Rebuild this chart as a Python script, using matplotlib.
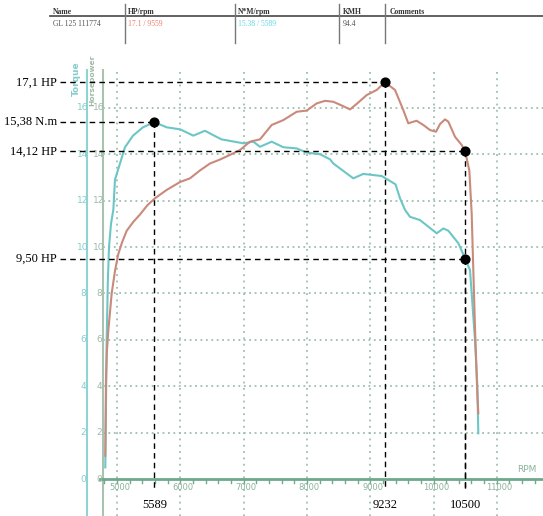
import matplotlib
matplotlib.use("Agg")
import matplotlib.pyplot as plt
import numpy as np

# ---------------- data ----------------
torque_rpm = [4815, 4825, 4837, 4855, 4874, 4905, 4942, 4968, 5047, 5126, 5253, 5411, 5589,
              5785, 6000, 6205, 6390, 6500, 6650, 6995, 7153, 7259, 7444, 7627, 7839, 7997,
              8207, 8365, 8417, 8733, 8891, 9182, 9286, 9400, 9471, 9550, 9629, 9787, 10051,
              10156, 10235, 10393, 10500, 10577, 10603, 10655, 10692, 10708]
torque_val = [0.5, 3.0, 6.0, 8.5, 10.0, 11.0, 11.6, 12.9, 13.6, 14.3, 14.8, 15.16, 15.38,
              15.16, 15.07, 14.8, 15.01, 14.85, 14.64, 14.47, 14.54, 14.32, 14.54, 14.3, 14.25, 14.07,
              14.0, 13.78, 13.6, 12.96, 13.15, 13.06, 12.89, 12.7, 12.1, 11.6, 11.3, 11.16, 10.59,
              10.8, 10.7, 10.16, 9.5, 9.0, 8.0, 6.0, 4.05, 1.97]

hp_rpm = [4815, 4822, 4826, 4840, 4863, 4916, 4970, 5021, 5080, 5153, 5263, 5363, 5480, 5600,
          5785, 5995, 6153, 6311, 6469, 6627, 6785, 6943, 7101, 7259, 7444, 7627, 7839, 7997,
          8155, 8286, 8417, 8550, 8681, 8800, 8945, 9103, 9232, 9392, 9523, 9602, 9680, 9734,
          9839, 9945, 10040, 10103, 10182, 10235, 10340, 10445, 10500, 10566, 10603, 10629,
          10655, 10692, 10708]
hp_val = [1.0, 3.0, 4.27, 5.5, 6.4, 8.0, 9.0, 9.7, 10.2, 10.7, 11.1, 11.4, 11.8, 12.1,
          12.46, 12.8, 12.96, 13.3, 13.6, 13.77, 13.97, 14.18, 14.54, 14.64, 15.26, 15.47, 15.83, 15.88,
          16.19, 16.3, 16.26, 16.1, 15.93, 16.2, 16.55, 16.77, 17.1, 16.77, 15.9, 15.33, 15.4, 15.44,
          15.26, 15.04, 14.97, 15.3, 15.5, 15.4, 14.75, 14.4, 14.12, 13.3, 11.45, 9.0,
          6.56, 3.7, 2.83]

mark_rpm = [9232, 5589, 10500, 10500]
mark_val = [17.1, 15.38, 14.12, 9.50]
mark_labels = ["17,1 HP", "15,38 N.m", "14,12 HP", "9,50 HP"]
rpm_labels = [5589, 9232, 10500]

x_ticks = [5000, 6000, 7000, 8000, 9000, 10000, 11000]
y_ticks = [0, 2, 4, 6, 8, 10, 12, 14, 16]

header_cols = ["Name", "HP/rpm", "N*M/rpm", "KMH", "Comments"]
header_vals = ["GL 125 111774", "17.1 / 9559", "15.38 / 5589", "94.4", ""]

# ---------------- layout ----------------
W, H = 543, 516
fig = plt.figure(figsize=(W / 100, H / 100), dpi=100)
ax = fig.add_axes([0, 0, 1, 1])

X0PX, XSCALE = 117, 0.0633      # px of 5000 rpm, px per rpm
Y0PX, YSCALE = 479, 23.2        # px of value 0, px per unit

def dx(px):
    return 5000 + (px - X0PX) / XSCALE

def dy(py):
    return (Y0PX - py) / YSCALE

ax.set_xlim(dx(0), dx(W))
ax.set_ylim(dy(H), dy(0))
ax.axis("off")

c_torque = "#6cc6c6"
c_hp = "#c98a7b"
c_grid = "#9dbfae"
c_axis = "#6fa88e"
c_hpaxis = "#a9c2b2"

# grid
for yv in y_ticks[1:]:
    ax.plot([dx(103), dx(W)], [yv, yv], color=c_grid, lw=1.3, ls=(0, (1, 2)), zorder=1)
for xv in x_ticks:
    ax.plot([xv, xv], [dy(72), dy(H)], color=c_grid, lw=1.3, ls=(0, (1, 2.5)), zorder=1)

# axes lines
ax.plot([dx(87), dx(87)], [dy(70), dy(H)], color="#8fd3d3", lw=1.5, zorder=2)
ax.plot([dx(103), dx(103)], [dy(70), dy(H)], color=c_hpaxis, lw=1.5, zorder=2)
ax.plot([dx(100), dx(W)], [0, 0], color=c_axis, lw=2.0, zorder=2)
for r in range(4800, 11700, 200):
    ax.plot([r, r], [0, dy(483)], color=c_axis, lw=1.0, zorder=2)

for xv in x_ticks:
    ax.text(xv + 40, dy(488), str(xv), ha="center", va="center", fontsize=6,
            color="#8bb39c")
for yv in y_ticks:
    ax.text(dx(83), yv, str(yv), ha="center", va="center", fontsize=6.5, color="#86cccc")
    ax.text(dx(99), yv, str(yv), ha="center", va="center", fontsize=6.5, color="#9dbaa6")

ax.text(dx(527), dy(470), "RPM", ha="center", va="center", fontsize=6.5, color="#8bb39c")
ax.text(dx(76), dy(79), "Torque", rotation=90, ha="center", va="center", fontsize=6.5,
        color="#86cccc", fontweight="bold")
ax.text(dx(92), dy(80), "Horsepower", rotation=90, ha="center", va="center", fontsize=5.4,
        color="#9dbaa6", fontweight="bold")

# curves
ax.plot(torque_rpm, torque_val, color=c_torque, lw=1.5, zorder=3)
ax.plot(hp_rpm, hp_val, color=c_hp, lw=1.5, zorder=3)

# annotations
for r, v, lab in zip(mark_rpm, mark_val, mark_labels):
    ax.plot([dx(60), r], [v, v], color="black", lw=1.0, ls=(0, (4, 3)), zorder=4)
    ax.text(dx(57), v, lab, ha="right", va="center", fontsize=9,
            family="Liberation Serif", color="black")
for r, v in zip(mark_rpm, mark_val):
    ax.plot([r, r], [v, dy(490)], color="black", lw=1.0, ls=(0, (4, 3)), zorder=4)
ax.scatter(mark_rpm, mark_val, s=40, color="black", zorder=5)
for r in rpm_labels:
    ax.text(r, dy(505), str(r), ha="center", va="center", fontsize=9,
            family="Liberation Serif", color="black")

# header table
def fx(px):
    return px / W

def fy(py):
    return 1 - py / H

col_x = [53, 128, 238, 343, 390]
sep_x = [125, 235, 339, 385]
fig.add_artist(plt.Line2D([fx(50), fx(W)], [fy(15.5), fy(15.5)], color="#555555", lw=1.3,
                          transform=fig.transFigure))
for sx in sep_x:
    fig.add_artist(plt.Line2D([fx(sx), fx(sx)], [fy(4), fy(43)], color="#777777", lw=1.0,
                              transform=fig.transFigure))
val_colors = ["#555555", "#f07a6a", "#5fd8e6", "#555555", "#555555"]
for x, t in zip(col_x, header_cols):
    fig.text(fx(x), fy(11.5), t, ha="left", va="center", fontsize=5.5,
             family="Liberation Serif", fontweight="bold", color="#333333")
for x, t, c in zip(col_x, header_vals, val_colors):
    fig.text(fx(x), fy(24), t, ha="left", va="center", fontsize=5.5,
             family="Liberation Serif", color=c)

fig.savefig("out.png", dpi=100)
